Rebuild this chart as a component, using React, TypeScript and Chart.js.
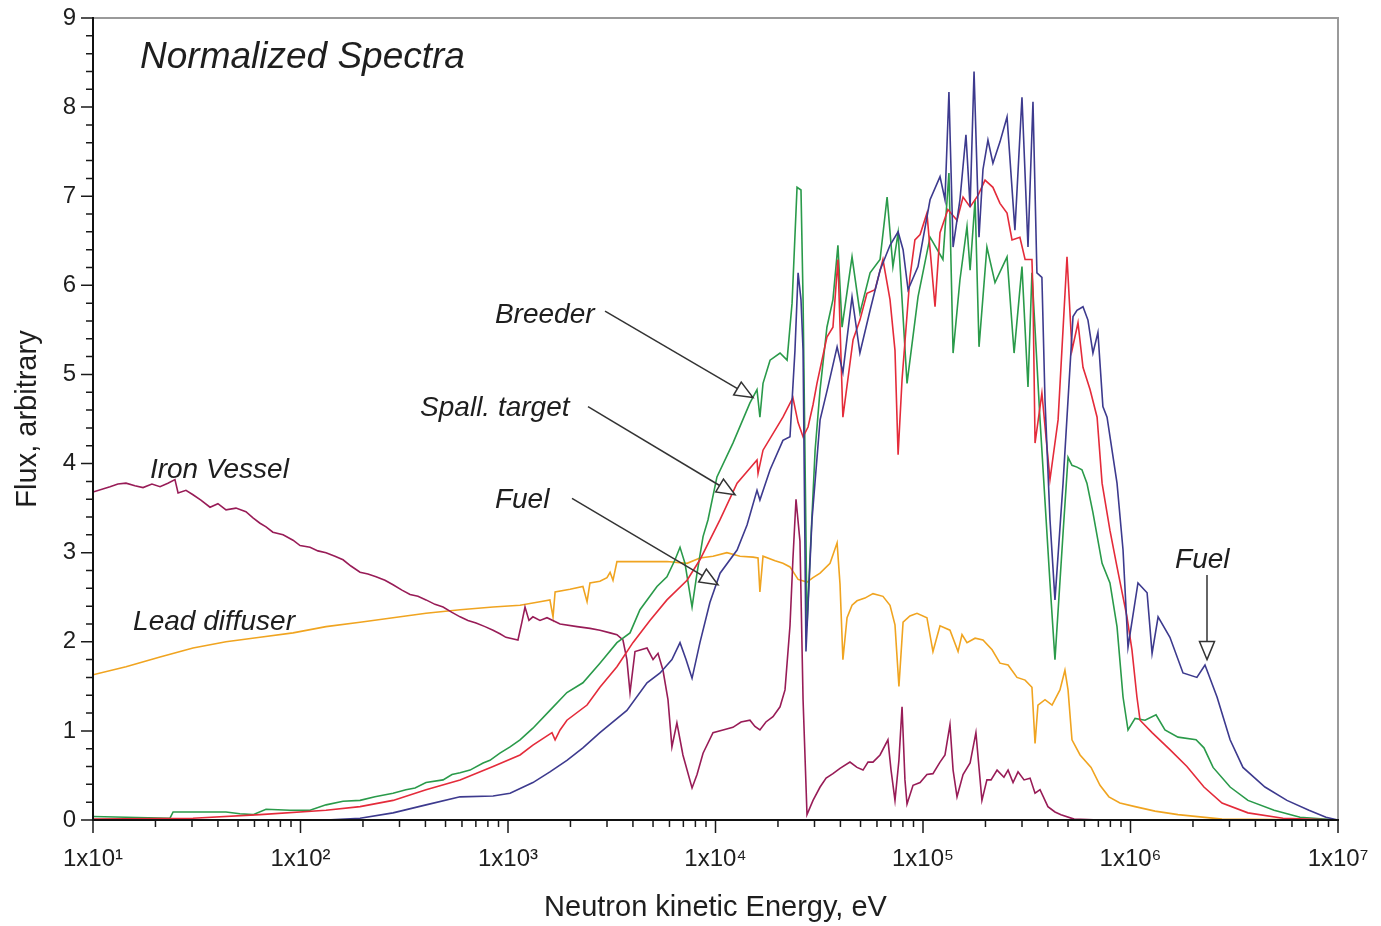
import React, { useEffect, useRef } from 'react';
import { Chart, registerables } from 'chart.js';

Chart.register(...registerables);

type Pt = [number, number]; // [log10(E / eV), flux]

const fuel: Pt[] = [
  [1.000, 0], [2.123, 0], [2.287, 0.02], [2.446, 0.08], [2.605, 0.17], [2.769, 0.26], [2.928, 0.27], [3.010, 0.30],
  [3.120, 0.42], [3.202, 0.54], [3.284, 0.67], [3.361, 0.81], [3.443, 0.98], [3.573, 1.23], [3.670, 1.54], [3.733, 1.65],
  [3.790, 1.80], [3.829, 1.99], [3.858, 1.80], [3.887, 1.59], [3.925, 1.99], [3.973, 2.44], [4.022, 2.77], [4.104, 3.03],
  [4.152, 3.31], [4.200, 3.70], [4.214, 3.59], [4.263, 3.93], [4.325, 4.26], [4.359, 4.30], [4.383, 5.27], [4.398, 6.14],
  [4.412, 5.84], [4.422, 5.27], [4.436, 1.89], [4.465, 3.37], [4.504, 4.49], [4.542, 4.86], [4.586, 5.31], [4.614, 5.02],
  [4.658, 5.87], [4.696, 5.24], [4.745, 5.72], [4.793, 6.17], [4.841, 6.45], [4.880, 6.60], [4.904, 6.40], [4.928, 5.95],
  [4.976, 6.21], [5.034, 6.96], [5.082, 7.22], [5.106, 6.96], [5.125, 8.17], [5.145, 6.43], [5.178, 6.96], [5.207, 7.69],
  [5.227, 6.88], [5.246, 8.40], [5.270, 6.54], [5.289, 7.30], [5.313, 7.63], [5.337, 7.37], [5.371, 7.61], [5.405, 7.89],
  [5.443, 6.62], [5.477, 8.11], [5.506, 6.43], [5.530, 8.06], [5.549, 6.14], [5.573, 6.09], [5.588, 4.71], [5.612, 3.37],
  [5.636, 2.47], [5.675, 3.78], [5.723, 5.65], [5.742, 5.72], [5.771, 5.76], [5.795, 5.61], [5.819, 5.24], [5.843, 5.47],
  [5.867, 4.64], [5.887, 4.52], [5.935, 3.78], [5.964, 3.03], [5.988, 1.94], [6.036, 2.66], [6.080, 2.55], [6.104, 1.87],
  [6.133, 2.28], [6.190, 2.05], [6.253, 1.65], [6.320, 1.60], [6.359, 1.74], [6.417, 1.38], [6.480, 0.90], [6.542, 0.59],
  [6.648, 0.37], [6.754, 0.22], [6.860, 0.11], [6.942, 0.03], [7.000, 0],
];

const spallTarget: Pt[] = [
  [1.000, 0.01], [1.482, 0.02], [1.805, 0.06], [2.123, 0.11], [2.287, 0.15], [2.446, 0.22], [2.605, 0.34], [2.769, 0.45],
  [2.928, 0.60], [3.058, 0.73], [3.120, 0.84], [3.212, 0.98], [3.227, 0.90], [3.251, 1.01], [3.284, 1.12], [3.381, 1.29],
  [3.443, 1.49], [3.525, 1.72], [3.602, 1.99], [3.684, 2.24], [3.766, 2.47], [3.863, 2.69], [3.925, 2.92], [4.022, 3.37],
  [4.104, 3.78], [4.200, 4.04], [4.205, 3.89], [4.229, 4.15], [4.325, 4.52], [4.373, 4.74], [4.398, 4.46], [4.422, 4.30],
  [4.446, 4.41], [4.470, 4.66], [4.489, 4.90], [4.537, 5.42], [4.566, 5.53], [4.590, 6.29], [4.614, 4.52], [4.663, 5.39],
  [4.696, 5.61], [4.730, 5.91], [4.769, 5.95], [4.807, 6.29], [4.841, 5.84], [4.865, 5.27], [4.880, 4.10], [4.899, 4.94],
  [4.937, 6.09], [4.961, 6.51], [4.986, 6.57], [5.019, 6.81], [5.058, 5.76], [5.082, 6.59], [5.120, 6.85], [5.164, 6.73],
  [5.193, 6.99], [5.227, 6.88], [5.265, 7.01], [5.299, 7.18], [5.337, 7.10], [5.371, 6.92], [5.405, 6.81], [5.429, 6.51],
  [5.467, 6.54], [5.492, 6.29], [5.525, 6.29], [5.530, 5.91], [5.540, 4.23], [5.573, 4.79], [5.612, 3.82], [5.651, 4.49],
  [5.694, 6.32], [5.718, 5.27], [5.747, 5.58], [5.771, 5.08], [5.805, 4.83], [5.839, 4.52], [5.863, 3.78], [5.901, 3.25],
  [5.935, 2.84], [5.983, 2.28], [6.007, 1.91], [6.031, 1.38], [6.046, 1.12], [6.104, 0.98], [6.190, 0.79], [6.272, 0.60],
  [6.354, 0.37], [6.441, 0.19], [6.566, 0.08], [6.735, 0.02], [7.000, 0],
];

const breeder: Pt[] = [
  [1.000, 0.04], [1.371, 0.02], [1.386, 0.09], [1.641, 0.09], [1.708, 0.07], [1.771, 0.06], [1.834, 0.12], [1.949, 0.11],
  [2.046, 0.11], [2.123, 0.17], [2.205, 0.21], [2.287, 0.22], [2.359, 0.26], [2.446, 0.30], [2.508, 0.34], [2.552, 0.36],
  [2.605, 0.42], [2.687, 0.45], [2.730, 0.51], [2.769, 0.53], [2.817, 0.56], [2.880, 0.64], [2.913, 0.67], [2.961, 0.75],
  [3.010, 0.82], [3.058, 0.90], [3.120, 1.03], [3.202, 1.23], [3.284, 1.43], [3.361, 1.54], [3.443, 1.76], [3.525, 1.99],
  [3.588, 2.10], [3.636, 2.36], [3.718, 2.62], [3.766, 2.73], [3.805, 2.92], [3.829, 3.06], [3.853, 2.88], [3.887, 2.39],
  [3.911, 2.77], [3.940, 3.18], [3.964, 3.37], [4.007, 3.85], [4.084, 4.23], [4.166, 4.68], [4.200, 4.83], [4.214, 4.52],
  [4.229, 4.90], [4.263, 5.16], [4.311, 5.24], [4.345, 5.16], [4.369, 5.80], [4.393, 7.10], [4.412, 7.07], [4.422, 5.84],
  [4.431, 4.15], [4.441, 2.18], [4.455, 2.92], [4.480, 4.15], [4.504, 4.83], [4.537, 5.53], [4.566, 5.84], [4.590, 6.45],
  [4.610, 5.53], [4.658, 6.32], [4.696, 5.69], [4.745, 6.14], [4.793, 6.29], [4.827, 6.99], [4.855, 6.21], [4.880, 6.59],
  [4.923, 4.90], [4.976, 5.87], [5.034, 6.54], [5.096, 6.29], [5.125, 7.26], [5.145, 5.24], [5.178, 6.06], [5.212, 6.66],
  [5.227, 6.17], [5.251, 6.96], [5.270, 5.31], [5.308, 6.43], [5.347, 6.03], [5.405, 6.32], [5.439, 5.24], [5.477, 6.21],
  [5.506, 4.86], [5.525, 6.14], [5.564, 4.49], [5.612, 2.66], [5.636, 1.80], [5.675, 3.22], [5.699, 4.07], [5.718, 3.98],
  [5.742, 3.96], [5.766, 3.93], [5.790, 3.78], [5.819, 3.45], [5.863, 2.88], [5.901, 2.66], [5.935, 2.17], [5.964, 1.38],
  [5.988, 1.01], [6.022, 1.14], [6.070, 1.12], [6.123, 1.18], [6.166, 1.01], [6.229, 0.93], [6.316, 0.90], [6.354, 0.81],
  [6.398, 0.59], [6.480, 0.37], [6.566, 0.22], [6.692, 0.11], [6.817, 0.03], [7.000, 0],
];

const ironVessel: Pt[] = [
  [1.000, 3.68], [1.082, 3.74], [1.120, 3.77], [1.159, 3.78], [1.202, 3.75], [1.241, 3.73], [1.284, 3.77], [1.323, 3.74],
  [1.361, 3.78], [1.395, 3.82], [1.410, 3.67], [1.448, 3.70], [1.482, 3.65], [1.520, 3.59], [1.564, 3.51], [1.602, 3.55],
  [1.641, 3.48], [1.689, 3.50], [1.737, 3.46], [1.771, 3.39], [1.805, 3.33], [1.834, 3.29], [1.867, 3.23], [1.916, 3.20],
  [1.964, 3.14], [1.998, 3.08], [2.046, 3.06], [2.084, 3.02], [2.123, 3.00], [2.166, 2.96], [2.205, 2.92], [2.243, 2.85],
  [2.287, 2.78], [2.325, 2.76], [2.364, 2.73], [2.407, 2.69], [2.446, 2.64], [2.489, 2.58], [2.528, 2.53], [2.566, 2.51],
  [2.605, 2.47], [2.648, 2.42], [2.687, 2.39], [2.730, 2.33], [2.769, 2.28], [2.807, 2.24], [2.846, 2.21], [2.889, 2.17],
  [2.928, 2.13], [2.961, 2.09], [2.990, 2.05], [3.048, 2.02], [3.067, 2.22], [3.082, 2.39], [3.101, 2.24], [3.120, 2.28],
  [3.154, 2.24], [3.188, 2.27], [3.251, 2.20], [3.333, 2.17], [3.395, 2.15], [3.443, 2.13], [3.492, 2.10], [3.525, 2.08],
  [3.554, 2.02], [3.573, 1.80], [3.588, 1.43], [3.612, 1.89], [3.641, 1.91], [3.670, 1.93], [3.699, 1.80], [3.723, 1.87],
  [3.747, 1.68], [3.771, 1.35], [3.790, 0.82], [3.814, 1.09], [3.843, 0.73], [3.887, 0.36], [3.911, 0.51], [3.940, 0.75],
  [3.988, 0.98], [4.036, 1.01], [4.084, 1.04], [4.123, 1.10], [4.166, 1.12], [4.190, 1.05], [4.214, 1.01], [4.243, 1.10],
  [4.277, 1.16], [4.311, 1.27], [4.335, 1.46], [4.359, 2.18], [4.373, 2.92], [4.388, 3.60], [4.407, 3.13], [4.422, 1.35],
  [4.441, 0.06], [4.470, 0.22], [4.504, 0.37], [4.533, 0.47], [4.566, 0.52], [4.600, 0.58], [4.648, 0.65], [4.682, 0.59],
  [4.711, 0.56], [4.735, 0.65], [4.759, 0.65], [4.793, 0.73], [4.831, 0.90], [4.846, 0.56], [4.865, 0.22], [4.884, 0.67],
  [4.899, 1.27], [4.913, 0.45], [4.923, 0.18], [4.952, 0.39], [4.986, 0.42], [5.019, 0.51], [5.048, 0.52], [5.082, 0.65],
  [5.106, 0.73], [5.130, 1.07], [5.145, 0.56], [5.164, 0.26], [5.193, 0.51], [5.227, 0.64], [5.255, 0.98], [5.284, 0.22],
  [5.308, 0.45], [5.328, 0.45], [5.357, 0.56], [5.390, 0.48], [5.410, 0.56], [5.434, 0.42], [5.458, 0.54], [5.487, 0.45],
  [5.516, 0.47], [5.540, 0.30], [5.564, 0.34], [5.602, 0.15], [5.636, 0.09], [5.665, 0.06], [5.728, 0.01], [5.853, 0],
  [7.000, 0],
];

const leadDiffuser: Pt[] = [
  [1.000, 1.63], [1.159, 1.72], [1.323, 1.83], [1.482, 1.93], [1.641, 2.00], [1.805, 2.05], [1.964, 2.10], [2.123, 2.17],
  [2.287, 2.22], [2.446, 2.27], [2.605, 2.32], [2.769, 2.36], [2.928, 2.39], [3.058, 2.41], [3.154, 2.45], [3.202, 2.47],
  [3.217, 2.28], [3.227, 2.56], [3.299, 2.59], [3.361, 2.62], [3.381, 2.45], [3.395, 2.66], [3.443, 2.68], [3.477, 2.72],
  [3.492, 2.78], [3.506, 2.69], [3.525, 2.90], [3.636, 2.90], [3.766, 2.90], [3.863, 2.88], [3.925, 2.94], [3.988, 2.96],
  [4.055, 3.00], [4.118, 2.96], [4.181, 2.95], [4.205, 2.94], [4.214, 2.56], [4.229, 2.96], [4.287, 2.91], [4.325, 2.88],
  [4.359, 2.84], [4.398, 2.70], [4.441, 2.67], [4.470, 2.72], [4.504, 2.77], [4.552, 2.88], [4.586, 3.11], [4.600, 2.65],
  [4.614, 1.80], [4.634, 2.27], [4.658, 2.41], [4.682, 2.46], [4.720, 2.49], [4.759, 2.54], [4.807, 2.51], [4.841, 2.41],
  [4.865, 2.19], [4.884, 1.50], [4.904, 2.22], [4.937, 2.29], [4.971, 2.32], [5.019, 2.27], [5.048, 1.89], [5.082, 2.18],
  [5.130, 2.13], [5.169, 1.89], [5.188, 2.08], [5.212, 1.99], [5.251, 2.04], [5.289, 2.02], [5.333, 1.91], [5.371, 1.76],
  [5.410, 1.74], [5.453, 1.60], [5.492, 1.57], [5.525, 1.49], [5.540, 0.86], [5.554, 1.29], [5.588, 1.35], [5.622, 1.29],
  [5.660, 1.46], [5.684, 1.68], [5.699, 1.46], [5.718, 0.90], [5.757, 0.73], [5.810, 0.59], [5.853, 0.39], [5.896, 0.26],
  [5.949, 0.19], [6.022, 0.15], [6.118, 0.10], [6.229, 0.06], [6.441, 0.01], [7.000, 0],
];

const seriesNames = ['Fuel', 'Spall. target', 'Breeder', 'Iron Vessel', 'Lead diffuser'];
const seriesData = [fuel, spallTarget, breeder, ironVessel, leadDiffuser];
const seriesColors = ['#3d3a8e', '#e42b3a', '#2a9a4a', '#981c57', '#f0a420'];

const xDecades = [1e1, 1e2, 1e3, 1e4, 1e5, 1e6, 1e7];
const xDecadeLabels = ['1x10\u00B9', '1x10\u00B2', '1x10\u00B3', '1x10\u2074', '1x10\u2075', '1x10\u2076', '1x10\u2077'];
const xMinorMultipliers = [2, 3, 4, 5, 6, 7, 8, 9];
const yMajorTicks = [0, 1, 2, 3, 4, 5, 6, 7, 8, 9];
const yMinorFractions = [0.2, 0.4, 0.6, 0.8];

// labels placed in data coordinates (energy in eV, flux)
const textLabels = [
  { text: 'Normalized Spectra', e: 16.85, flux: 8.55, size: 37 },
  { text: 'Iron Vessel', e: 18.8, flux: 3.93, size: 28 },
  { text: 'Lead diffuser', e: 15.6, flux: 2.22, size: 28 },
  { text: 'Breeder', e: 865, flux: 5.67, size: 28 },
  { text: 'Spall. target', e: 377, flux: 4.62, size: 28 },
  { text: 'Fuel', e: 865, flux: 3.59, size: 28 },
  { text: 'Fuel', e: 1.64e6, flux: 2.92, size: 28 },
];

const arrowLinks = [
  { fromE: 2935, fromFlux: 5.71, toE: 15160, toFlux: 4.74 },
  { fromE: 2430, fromFlux: 4.64, toE: 12420, toFlux: 3.65 },
  { fromE: 2034, fromFlux: 3.61, toE: 10280, toFlux: 2.64 },
  { fromE: 2.337e6, fromFlux: 2.75, toE: 2.337e6, toFlux: 1.8 },
];

const FONT = "'Liberation Sans', Arial, Helvetica, sans-serif";

function drawArrow(ctx: CanvasRenderingContext2D, x1: number, y1: number, x2: number, y2: number) {
  const ang = Math.atan2(y2 - y1, x2 - x1);
  const L = 18;
  const W = 7.5;
  const bx = x2 - L * Math.cos(ang);
  const by = y2 - L * Math.sin(ang);
  ctx.beginPath();
  ctx.moveTo(x1, y1);
  ctx.lineTo(bx, by);
  ctx.stroke();
  ctx.beginPath();
  ctx.moveTo(x2, y2);
  ctx.lineTo(bx + W * Math.sin(ang), by - W * Math.cos(ang));
  ctx.lineTo(bx - W * Math.sin(ang), by + W * Math.cos(ang));
  ctx.closePath();
  ctx.fillStyle = '#ffffff';
  ctx.fill();
  ctx.stroke();
}

const decorPlugin = {
  id: 'decor',
  afterDatasetsDraw(chart: any) {
    const { ctx, scales } = chart;
    const x = scales.x;
    const y = scales.y;
    ctx.save();
    ctx.strokeStyle = '#333333';
    ctx.lineWidth = 1.5;
    for (const a of arrowLinks) {
      drawArrow(
        ctx,
        x.getPixelForValue(a.fromE),
        y.getPixelForValue(a.fromFlux),
        x.getPixelForValue(a.toE),
        y.getPixelForValue(a.toFlux)
      );
    }
    ctx.fillStyle = '#1e1e1e';
    ctx.textAlign = 'left';
    ctx.textBaseline = 'middle';
    for (const t of textLabels) {
      ctx.font = `italic ${t.size}px ${FONT}`;
      ctx.fillText(t.text, x.getPixelForValue(t.e), y.getPixelForValue(t.flux));
    }
    ctx.restore();
  },
  afterDraw(chart: any) {
    const { ctx, chartArea: ca, scales } = chart;
    const x = scales.x;
    const y = scales.y;
    ctx.save();
    // gray top & right frame
    ctx.strokeStyle = '#9a9a9a';
    ctx.lineWidth = 2;
    ctx.beginPath();
    ctx.moveTo(ca.left, ca.top);
    ctx.lineTo(ca.right, ca.top);
    ctx.lineTo(ca.right, ca.bottom);
    ctx.stroke();
    // ticks
    ctx.strokeStyle = '#1a1a1a';
    ctx.lineWidth = 1.5;
    ctx.beginPath();
    xDecades.forEach((d, i) => {
      const p = x.getPixelForValue(d);
      ctx.moveTo(p, ca.bottom);
      ctx.lineTo(p, ca.bottom + 13);
      if (i < xDecades.length - 1) {
        for (const m of xMinorMultipliers) {
          const q = x.getPixelForValue(d * m);
          ctx.moveTo(q, ca.bottom);
          ctx.lineTo(q, ca.bottom + 7);
        }
      }
    });
    yMajorTicks.forEach((v, i) => {
      const p = y.getPixelForValue(v);
      ctx.moveTo(ca.left, p);
      ctx.lineTo(ca.left - 12, p);
      if (i < yMajorTicks.length - 1) {
        for (const f of yMinorFractions) {
          const q = y.getPixelForValue(v + f);
          ctx.moveTo(ca.left, q);
          ctx.lineTo(ca.left - 7, q);
        }
      }
    });
    ctx.stroke();
    // black axes
    ctx.strokeStyle = '#111111';
    ctx.lineWidth = 2;
    ctx.beginPath();
    ctx.moveTo(ca.left, ca.top - 1);
    ctx.lineTo(ca.left, ca.bottom);
    ctx.lineTo(ca.right + 1, ca.bottom);
    ctx.stroke();
    ctx.restore();
  },
};

export default function App() {
  const ref = useRef<HTMLCanvasElement>(null);

  useEffect(() => {
    const canvas = ref.current;
    if (!canvas) return;
    const chart = new Chart(canvas, {
      type: 'line',
      data: {
        datasets: seriesData.map((pts, i) => ({
          label: seriesNames[i],
          data: pts.map(([lg, f]) => ({ x: Math.pow(10, lg), y: f })),
          borderColor: seriesColors[i],
          backgroundColor: seriesColors[i],
          borderWidth: 1.6,
          pointRadius: 0,
          fill: false,
          tension: 0,
        })),
      },
      options: {
        animation: false,
        responsive: false,
        devicePixelRatio: 1,
        events: [],
        layout: { padding: { left: 0, top: 18, right: 43, bottom: 0 } },
        plugins: {
          legend: { display: false },
          tooltip: { enabled: false },
        },
        scales: {
          x: {
            type: 'logarithmic',
            min: 10,
            max: 1e7,
            afterFit: (s: any) => {
              s.height = 106;
              s.paddingLeft = 0;
              s.paddingRight = 0;
            },
            afterBuildTicks: (s: any) => {
              s.ticks = xDecades.map((v) => ({ value: v }));
            },
            grid: { display: false, drawTicks: false },
            border: { display: false },
            ticks: {
              autoSkip: false,
              maxRotation: 0,
              padding: 25,
              color: '#1e1e1e',
              font: { family: FONT, size: 24 },
              callback: (v: any) => {
                const i = xDecades.indexOf(Number(v));
                return i >= 0 ? xDecadeLabels[i] : '';
              },
            },
            title: {
              display: true,
              text: 'Neutron kinetic Energy, eV',
              color: '#1e1e1e',
              font: { family: FONT, size: 29 },
              padding: { top: 0, bottom: 1 },
            },
          },
          y: {
            type: 'linear',
            min: 0,
            max: 9,
            afterFit: (s: any) => {
              s.width = 93;
              s.paddingTop = 0;
              s.paddingBottom = 0;
            },
            grid: { display: false, drawTicks: false },
            border: { display: false },
            ticks: {
              stepSize: 1,
              padding: 17,
              color: '#1e1e1e',
              font: { family: FONT, size: 24 },
              callback: (v: any) => String(v),
            },
            title: {
              display: true,
              text: 'Flux, arbitrary',
              color: '#1e1e1e',
              font: { family: FONT, size: 29 },
              padding: { top: 11, bottom: 0 },
            },
          },
        },
      },
      plugins: [decorPlugin],
    } as any);
    return () => chart.destroy();
  }, []);

  return (
    <div style={{ position: 'fixed', left: 0, top: 0, width: 1381, height: 926, background: '#ffffff' }}>
      <canvas ref={ref} width={1381} height={926} style={{ display: 'block', width: 1381, height: 926 }} />
    </div>
  );
}
